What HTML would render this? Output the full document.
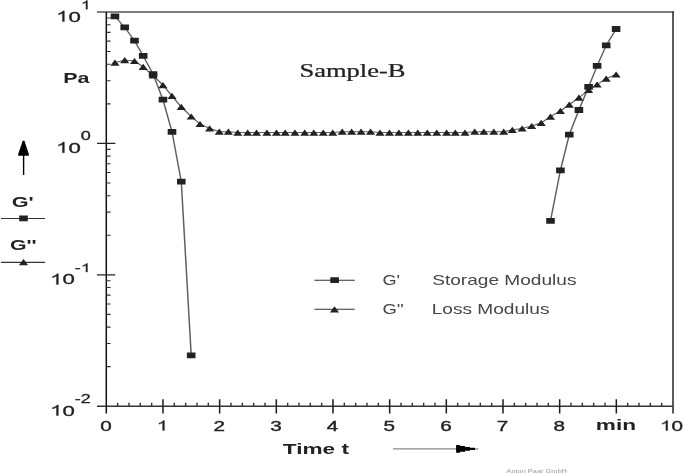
<!DOCTYPE html>
<html><head><meta charset="utf-8"><style>
html,body{margin:0;padding:0;background:#fff;width:685px;height:474px;overflow:hidden}
svg{position:absolute;left:0;top:0;display:block;filter:blur(0.35px)}
</style></head><body>
<svg width="685" height="474" viewBox="0 0 685 474">
<line x1="97" y1="12.0" x2="673.70" y2="12.0" stroke="#555" stroke-width="1.4"/>
<line x1="673.00" y1="11.3" x2="673.00" y2="413.4" stroke="#333" stroke-width="1.6"/>
<line x1="97" y1="406.20" x2="673.00" y2="406.20" stroke="#333" stroke-width="1.4"/>
<line x1="106.3" y1="12.0" x2="106.3" y2="413.4" stroke="#111" stroke-width="1.5"/>
<path d="M106.3 366.64h4.3 M106.3 343.51h4.3 M106.3 327.09h4.3 M106.3 314.36h4.3 M106.3 303.95h4.3 M106.3 295.15h4.3 M106.3 287.53h4.3 M106.3 280.81h4.3 M106.3 235.24h4.3 M106.3 212.11h4.3 M106.3 195.69h4.3 M106.3 182.96h4.3 M106.3 172.55h4.3 M106.3 163.75h4.3 M106.3 156.13h4.3 M106.3 149.41h4.3 M106.3 103.84h4.3 M106.3 80.71h4.3 M106.3 64.29h4.3 M106.3 51.56h4.3 M106.3 41.15h4.3 M106.3 32.35h4.3 M106.3 24.73h4.3 M106.3 18.01h4.3" stroke="#333" stroke-width="1.1" fill="none"/>
<path d="M97 143.40H115.3 M97 274.80H115.3" stroke="#222" stroke-width="1.3" fill="none"/>
<path d="M117.63 406.20v-3.4 M128.97 406.20v-3.4 M140.30 406.20v-3.4 M151.64 406.20v-3.4 M174.30 406.20v-3.4 M185.64 406.20v-3.4 M196.97 406.20v-3.4 M208.31 406.20v-3.4 M230.97 406.20v-3.4 M242.31 406.20v-3.4 M253.64 406.20v-3.4 M264.98 406.20v-3.4 M287.64 406.20v-3.4 M298.98 406.20v-3.4 M310.31 406.20v-3.4 M321.65 406.20v-3.4 M344.31 406.20v-3.4 M355.65 406.20v-3.4 M366.98 406.20v-3.4 M378.32 406.20v-3.4 M400.98 406.20v-3.4 M412.32 406.20v-3.4 M423.65 406.20v-3.4 M434.99 406.20v-3.4 M457.65 406.20v-3.4 M468.99 406.20v-3.4 M480.32 406.20v-3.4 M491.66 406.20v-3.4 M514.32 406.20v-3.4 M525.66 406.20v-3.4 M536.99 406.20v-3.4 M548.33 406.20v-3.4 M570.99 406.20v-3.4 M582.33 406.20v-3.4 M593.66 406.20v-3.4 M605.00 406.20v-3.4 M627.66 406.20v-3.4 M639.00 406.20v-3.4 M650.33 406.20v-3.4 M661.67 406.20v-3.4" stroke="#333" stroke-width="1.4" fill="none"/>
<path d="M162.97 399.2V413.4 M219.64 399.2V413.4 M276.31 399.2V413.4 M332.98 399.2V413.4 M389.65 399.2V413.4 M446.32 399.2V413.4 M502.99 399.2V413.4 M559.66 399.2V413.4 M616.33 399.2V413.4" stroke="#1a1a1a" stroke-width="1.5" fill="none"/>
<g transform="scale(1.5 1)" fill="none" stroke="#606060" stroke-width="1.0"><polyline points="76.633,62.70 83.133,60.10 89.667,61.00 95.467,66.90 102.067,75.50 108.633,85.10 114.667,95.90 120.867,106.90 127.467,116.50 133.333,124.00 139.733,128.30 146.200,131.70 152.267,131.70 158.533,132.60 165.133,132.60 171.000,132.60 177.933,132.60 184.333,132.60 190.133,132.60 196.600,132.60 203.133,132.60 209.209,132.60 215.513,132.60 221.816,132.60 228.120,131.70 234.423,131.70 240.727,131.70 247.030,131.70 253.334,132.60 259.637,132.60 265.940,132.60 272.244,132.60 278.547,132.60 284.851,132.60 291.154,132.60 297.733,132.60 303.533,132.60 310.000,132.60 316.467,131.70 322.533,131.70 329.200,131.70 335.800,131.70 341.533,129.80 348.067,128.50 354.467,126.00 360.800,122.80 367.000,116.60 373.600,110.80 379.533,104.60 385.933,97.70 392.400,90.00 398.067,84.50 404.133,78.70 410.733,74.50"/><polyline points="76.633,16.30 83.133,27.40 89.667,40.70 95.467,55.90 102.067,74.10 108.633,99.70 114.667,131.80 120.867,181.70 127.467,355.30"/><polyline points="367.000,220.80 373.600,170.30 379.533,134.60 385.933,110.00 392.400,86.90 398.067,65.80 404.133,45.30 410.733,29.00"/></g>
<path d="M110.35 65.80L114.95 59.60L119.55 65.80ZM120.10 63.20L124.70 57.00L129.30 63.20ZM129.90 64.10L134.50 57.90L139.10 64.10ZM138.60 70.00L143.20 63.80L147.80 70.00ZM148.50 78.60L153.10 72.40L157.70 78.60ZM158.35 88.20L162.95 82.00L167.55 88.20ZM167.40 99.00L172.00 92.80L176.60 99.00ZM176.70 110.00L181.30 103.80L185.90 110.00ZM186.60 119.60L191.20 113.40L195.80 119.60ZM195.40 127.10L200.00 120.90L204.60 127.10ZM205.00 131.40L209.60 125.20L214.20 131.40ZM214.70 134.80L219.30 128.60L223.90 134.80ZM223.80 134.80L228.40 128.60L233.00 134.80ZM233.20 135.70L237.80 129.50L242.40 135.70ZM243.10 135.70L247.70 129.50L252.30 135.70ZM251.90 135.70L256.50 129.50L261.10 135.70ZM262.30 135.70L266.90 129.50L271.50 135.70ZM271.90 135.70L276.50 129.50L281.10 135.70ZM280.60 135.70L285.20 129.50L289.80 135.70ZM290.30 135.70L294.90 129.50L299.50 135.70ZM300.10 135.70L304.70 129.50L309.30 135.70ZM309.21 135.70L313.81 129.50L318.41 135.70ZM318.67 135.70L323.27 129.50L327.87 135.70ZM328.12 135.70L332.72 129.50L337.32 135.70ZM337.58 134.80L342.18 128.60L346.78 134.80ZM347.03 134.80L351.63 128.60L356.23 134.80ZM356.49 134.80L361.09 128.60L365.69 134.80ZM365.95 134.80L370.55 128.60L375.15 134.80ZM375.40 135.70L380.00 129.50L384.60 135.70ZM384.86 135.70L389.46 129.50L394.06 135.70ZM394.31 135.70L398.91 129.50L403.51 135.70ZM403.77 135.70L408.37 129.50L412.97 135.70ZM413.22 135.70L417.82 129.50L422.42 135.70ZM422.68 135.70L427.28 129.50L431.88 135.70ZM432.13 135.70L436.73 129.50L441.33 135.70ZM442.00 135.70L446.60 129.50L451.20 135.70ZM450.70 135.70L455.30 129.50L459.90 135.70ZM460.40 135.70L465.00 129.50L469.60 135.70ZM470.10 134.80L474.70 128.60L479.30 134.80ZM479.20 134.80L483.80 128.60L488.40 134.80ZM489.20 134.80L493.80 128.60L498.40 134.80ZM499.10 134.80L503.70 128.60L508.30 134.80ZM507.70 132.90L512.30 126.70L516.90 132.90ZM517.50 131.60L522.10 125.40L526.70 131.60ZM527.10 129.10L531.70 122.90L536.30 129.10ZM536.60 125.90L541.20 119.70L545.80 125.90ZM545.90 119.70L550.50 113.50L555.10 119.70ZM555.80 113.90L560.40 107.70L565.00 113.90ZM564.70 107.70L569.30 101.50L573.90 107.70ZM574.30 100.80L578.90 94.60L583.50 100.80ZM584.00 93.10L588.60 86.90L593.20 93.10ZM592.50 87.60L597.10 81.40L601.70 87.60ZM601.60 81.80L606.20 75.60L610.80 81.80ZM611.50 77.60L616.10 71.40L620.70 77.60Z" fill="#222"/>
<path d="M110.65 13.40h8.6v5.8h-8.6ZM120.40 24.50h8.6v5.8h-8.6ZM130.20 37.80h8.6v5.8h-8.6ZM138.90 53.00h8.6v5.8h-8.6ZM148.80 71.20h8.6v5.8h-8.6ZM158.65 96.80h8.6v5.8h-8.6ZM167.70 128.90h8.6v5.8h-8.6ZM177.00 178.80h8.6v5.8h-8.6ZM186.90 352.40h8.6v5.8h-8.6ZM546.20 217.90h8.6v5.8h-8.6ZM556.10 167.40h8.6v5.8h-8.6ZM565.00 131.70h8.6v5.8h-8.6ZM574.60 107.10h8.6v5.8h-8.6ZM584.30 84.00h8.6v5.8h-8.6ZM592.80 62.90h8.6v5.8h-8.6ZM601.90 42.40h8.6v5.8h-8.6ZM611.80 26.10h8.6v5.8h-8.6Z" fill="#222"/>
<path d="M314.4 280.2H354.8M314.4 309.3H354.8M1 218.5H45.1M1 262.4H45.1" stroke="#333" stroke-width="1.1"/>
<path d="M330.30 277.30h8.6v5.8h-8.6ZM329.90 312.40L334.50 306.20L339.10 312.40ZM19.20 215.50h8.6v5.8h-8.6ZM18.90 265.30L23.50 259.10L28.10 265.30Z" fill="#222"/>
<path d="M23.6 155V175" stroke="#000" stroke-width="1.4"/>
<path d="M22.6 140.8H24.5L25.2 143.2L28.8 154V155.7H18.2V154L21.9 143.2Z" fill="#000"/>
<path d="M393 448.8H478.4" stroke="#888" stroke-width="1.2"/>
<path d="M456.1 444.9H460V445.9H465.1V447.1H469.9V447.7H475V449.9H469.9V450.7H465.1V451.8H460V452.8H456.1Z" fill="#000"/>
<path transform="translate(56.10 21.5) scale(22.200 14.8)" d="M0.3726 0H0.2847V-0.5601Q0.2529 -0.5298 0.2012 -0.4995Q0.1499 -0.4692 0.1089 -0.4541V-0.5391Q0.1826 -0.5737 0.2378 -0.6230Q0.2930 -0.6724 0.3159 -0.7188H0.3726Z" fill="#222" stroke="#222" stroke-width="0.35" vector-effect="non-scaling-stroke"/><text transform="translate(68.44 21.5) scale(1.5 1)" font-family="Liberation Sans" font-size="14.8" fill="#222" stroke="#222" stroke-width="0.35">0</text>
<path transform="translate(80.80 9.2) scale(18.000 12)" d="M0.3726 0H0.2847V-0.5601Q0.2529 -0.5298 0.2012 -0.4995Q0.1499 -0.4692 0.1089 -0.4541V-0.5391Q0.1826 -0.5737 0.2378 -0.6230Q0.2930 -0.6724 0.3159 -0.7188H0.3726Z" fill="#222" stroke="#222" stroke-width="0.3" vector-effect="non-scaling-stroke"/>
<path transform="translate(56.10 152.7) scale(22.200 14.8)" d="M0.3726 0H0.2847V-0.5601Q0.2529 -0.5298 0.2012 -0.4995Q0.1499 -0.4692 0.1089 -0.4541V-0.5391Q0.1826 -0.5737 0.2378 -0.6230Q0.2930 -0.6724 0.3159 -0.7188H0.3726Z" fill="#222" stroke="#222" stroke-width="0.35" vector-effect="non-scaling-stroke"/><text transform="translate(68.44 152.7) scale(1.5 1)" font-family="Liberation Sans" font-size="14.8" fill="#222" stroke="#222" stroke-width="0.35">0</text>
<text transform="translate(80.80 140.39999999999998) scale(1.5 1)" font-family="Liberation Sans" font-size="12" text-anchor="start" fill="#222" stroke="#222" stroke-width="0.3">0</text>
<path transform="translate(50.10 284.4) scale(22.200 14.8)" d="M0.3726 0H0.2847V-0.5601Q0.2529 -0.5298 0.2012 -0.4995Q0.1499 -0.4692 0.1089 -0.4541V-0.5391Q0.1826 -0.5737 0.2378 -0.6230Q0.2930 -0.6724 0.3159 -0.7188H0.3726Z" fill="#222" stroke="#222" stroke-width="0.35" vector-effect="non-scaling-stroke"/><text transform="translate(62.44 284.4) scale(1.5 1)" font-family="Liberation Sans" font-size="14.8" fill="#222" stroke="#222" stroke-width="0.35">0</text>
<text transform="translate(74.80 272.09999999999997) scale(1.5 1)" font-family="Liberation Sans" font-size="12" fill="#222" stroke="#222" stroke-width="0.3">-</text><path transform="translate(80.79 272.09999999999997) scale(18.000 12)" d="M0.3726 0H0.2847V-0.5601Q0.2529 -0.5298 0.2012 -0.4995Q0.1499 -0.4692 0.1089 -0.4541V-0.5391Q0.1826 -0.5737 0.2378 -0.6230Q0.2930 -0.6724 0.3159 -0.7188H0.3726Z" fill="#222" stroke="#222" stroke-width="0.3" vector-effect="non-scaling-stroke"/>
<path transform="translate(50.10 415.6) scale(22.200 14.8)" d="M0.3726 0H0.2847V-0.5601Q0.2529 -0.5298 0.2012 -0.4995Q0.1499 -0.4692 0.1089 -0.4541V-0.5391Q0.1826 -0.5737 0.2378 -0.6230Q0.2930 -0.6724 0.3159 -0.7188H0.3726Z" fill="#222" stroke="#222" stroke-width="0.35" vector-effect="non-scaling-stroke"/><text transform="translate(62.44 415.6) scale(1.5 1)" font-family="Liberation Sans" font-size="14.8" fill="#222" stroke="#222" stroke-width="0.35">0</text>
<text transform="translate(74.80 403.3) scale(1.5 1)" font-family="Liberation Sans" font-size="12" text-anchor="start" fill="#222" stroke="#222" stroke-width="0.3">-2</text>
<text transform="translate(63.20 82.6) scale(1.41 1)" font-family="Liberation Sans" font-size="15.2" font-weight="bold" text-anchor="start" fill="#222">Pa</text>
<text transform="translate(11.80 206.8) scale(1.46 1)" font-family="Liberation Sans" font-size="14.8" font-weight="bold" text-anchor="start" fill="#222">G'</text>
<text transform="translate(9.90 249.8) scale(1.44 1)" font-family="Liberation Sans" font-size="14.8" font-weight="bold" text-anchor="start" fill="#222">G''</text>
<text transform="translate(105.90 430.5) scale(1.5 1)" font-family="Liberation Sans" font-size="13.8" text-anchor="middle" fill="#222" stroke="#222" stroke-width="0.35">0</text>
<path transform="translate(156.72 430.5) scale(20.700 13.8)" d="M0.3726 0H0.2847V-0.5601Q0.2529 -0.5298 0.2012 -0.4995Q0.1499 -0.4692 0.1089 -0.4541V-0.5391Q0.1826 -0.5737 0.2378 -0.6230Q0.2930 -0.6724 0.3159 -0.7188H0.3726Z" fill="#222" stroke="#222" stroke-width="0.35" vector-effect="non-scaling-stroke"/>
<text transform="translate(219.24 430.5) scale(1.5 1)" font-family="Liberation Sans" font-size="13.8" text-anchor="middle" fill="#222" stroke="#222" stroke-width="0.35">2</text>
<text transform="translate(275.91 430.5) scale(1.5 1)" font-family="Liberation Sans" font-size="13.8" text-anchor="middle" fill="#222" stroke="#222" stroke-width="0.35">3</text>
<text transform="translate(332.58 430.5) scale(1.5 1)" font-family="Liberation Sans" font-size="13.8" text-anchor="middle" fill="#222" stroke="#222" stroke-width="0.35">4</text>
<text transform="translate(389.25 430.5) scale(1.5 1)" font-family="Liberation Sans" font-size="13.8" text-anchor="middle" fill="#222" stroke="#222" stroke-width="0.35">5</text>
<text transform="translate(445.92 430.5) scale(1.5 1)" font-family="Liberation Sans" font-size="13.8" text-anchor="middle" fill="#222" stroke="#222" stroke-width="0.35">6</text>
<text transform="translate(502.59 430.5) scale(1.5 1)" font-family="Liberation Sans" font-size="13.8" text-anchor="middle" fill="#222" stroke="#222" stroke-width="0.35">7</text>
<text transform="translate(559.26 430.5) scale(1.5 1)" font-family="Liberation Sans" font-size="13.8" text-anchor="middle" fill="#222" stroke="#222" stroke-width="0.35">8</text>
<path transform="translate(659.99 430.5) scale(20.700 13.8)" d="M0.3726 0H0.2847V-0.5601Q0.2529 -0.5298 0.2012 -0.4995Q0.1499 -0.4692 0.1089 -0.4541V-0.5391Q0.1826 -0.5737 0.2378 -0.6230Q0.2930 -0.6724 0.3159 -0.7188H0.3726Z" fill="#222" stroke="#222" stroke-width="0.35" vector-effect="non-scaling-stroke"/><text transform="translate(671.50 430.5) scale(1.5 1)" font-family="Liberation Sans" font-size="13.8" fill="#222" stroke="#222" stroke-width="0.35">0</text>
<text transform="translate(615.90 430.4) scale(1.5 1)" font-family="Liberation Sans" font-size="15.1" font-weight="bold" text-anchor="middle" fill="#222">min</text>
<text transform="translate(282.80 453.6) scale(1.56 1)" font-family="Liberation Sans" font-size="14.5" font-weight="bold" text-anchor="start" fill="#222">Time t</text>
<text transform="translate(299.40 77.1) scale(1.457 1)" font-family="Liberation Serif" font-size="18.2" text-anchor="start" fill="#222" stroke="#222" stroke-width="0.25">Sample-B</text>
<text transform="translate(382.40 284.6) scale(1.28 1)" font-family="Liberation Sans" font-size="14.2" text-anchor="start" fill="#474747">G'</text>
<text transform="translate(382.40 313.8) scale(1.3 1)" font-family="Liberation Sans" font-size="14.2" text-anchor="start" fill="#474747">G''</text>
<text transform="translate(432.20 284.6) scale(1.345 1)" font-family="Liberation Sans" font-size="14.2" text-anchor="start" fill="#474747">Storage Modulus</text>
<text transform="translate(431.70 313.8) scale(1.345 1)" font-family="Liberation Sans" font-size="14.2" text-anchor="start" fill="#474747">Loss Modulus</text>
<text transform="translate(506.50 472.7) scale(1.45 1)" font-family="Liberation Sans" font-size="5.1" text-anchor="start" fill="#999">Anton Paar GmbH</text>
</svg>
</body></html>
